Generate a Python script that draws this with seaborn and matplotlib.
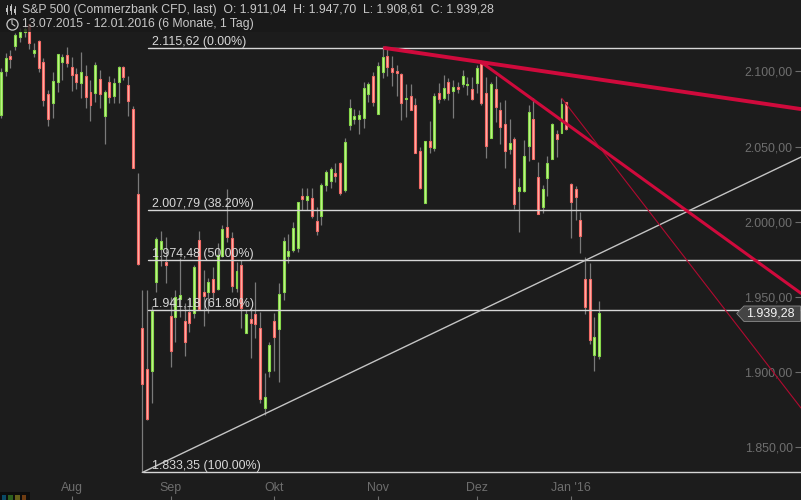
import matplotlib
matplotlib.use("Agg")
import matplotlib.pyplot as plt
from matplotlib.patches import Polygon, Rectangle
import numpy as np
import pandas as pd
import seaborn as sns

highs = [2102.3,2112.3,2114.3,2125.6,2128.9,2132.0,2131.5,2119.1,2120.9,2108.7,2087.7,2099.8,2111.4,2111.4,2116.4,2109.8,
 2102.1,2113.1,2104.3,2094.3,2106.5,2101.0,2087.7,2097.0,2095.4,2103.8,2103.8,2097.0,2077.0,2032.5,1954.7,1954.7,
 1944.0,1990.1,1993.9,1989.9,1950.0,1954.7,1975.9,1946.0,1950.0,1971.3,1993.9,1968.0,1962.6,1970.2,1985.9,1997.9,
 2021.8,1993.4,1973.5,1974.6,1941.4,1942.7,1960.2,1940.2,1899.3,1920.3,1939.4,1959.3,1990.1,1991.7,2000.1,2013.4,
 2022.3,2022.3,2022.3,2009.6,2025.8,2034.4,2036.6,2039.3,2040.0,2055.9,2081.5,2074.8,2074.4,2092.8,2093.2,2099.4,
 2106.1,2116.9,2115.4,2110.3,2104.3,2098.8,2091.6,2091.6,2082.1,2049.9,2053.5,2067.0,2085.9,2092.1,2097.6,2095.6,
 2094.3,2093.2,2101.0,2096.5,2096.5,2104.3,2105.8,2096.5,2093.2,2097.0,2079.9,2081.0,2068.4,2056.2,2028.9,2054.4,
 2077.7,2082.1,2040.0,2024.5,2043.8,2065.5,2061.1,2082.1,2079.9,2025.6,2023.8,2006.3,1976.4,1972.4,1936.9,1947.7]
lows = [2068.9,2097.0,2102.5,2114.3,2119.8,2123.1,2114.9,2109.4,2099.8,2077.0,2063.7,2069.2,2086.3,2094.3,2103.1,2087.2,
 2088.3,2082.3,2075.9,2067.2,2079.9,2075.9,2051.7,2078.8,2078.8,2079.2,2094.3,2070.6,2035.6,1971.5,1833.35,1868.2,
 1879.7,1953.5,1970.6,1959.3,1903.4,1920.3,1936.9,1911.0,1926.7,1936.0,1941.4,1930.9,1939.4,1946.0,1954.7,1976.8,
 1986.8,1953.5,1953.5,1929.4,1926.1,1909.4,1922.7,1879.5,1871.5,1897.0,1901.0,1893.7,1948.0,1972.8,1980.1,1980.1,
 2007.9,2007.9,2002.3,1991.2,1997.9,2020.7,2022.3,2026.7,2017.8,2019.8,2061.1,2065.0,2058.4,2062.6,2079.9,2077.0,
 2071.7,2095.8,2097.2,2090.5,2083.9,2067.7,2069.5,2074.4,2045.6,2021.8,2012.3,2045.6,2047.3,2078.8,2081.0,2081.0,
 2069.2,2085.5,2089.8,2084.3,2081.0,2085.9,2077.7,2042.6,2055.5,2066.6,2051.5,2036.0,2045.1,2008.5,1993.4,2020.0,
 2040.6,2041.8,2005.2,2006.1,2017.4,2041.8,2043.3,2059.1,2061.1,1989.4,2001.2,1979.3,1938.7,1918.8,1900.8,1908.61]
opens = [2071.1,2100.5,2110.3,2116.9,2123.1,2126.4,2131.5,2112.5,2120.2,2106.1,2084.8,2078.8,2092.8,2106.5,2110.9,2102.7,
 2098.3,2092.1,2097.0,2086.1,2085.5,2094.8,2070.6,2092.8,2083.9,2092.8,2102.7,2090.8,2074.8,2018.5,1929.4,1902.1,
 1901.0,1960.2,1981.9,1973.1,1937.4,1936.9,1948.5,1934.0,1940.2,1939.2,1987.9,1953.1,1953.5,1962.0,1955.1,1977.3,
 1996.3,1989.0,1955.8,1971.1,1926.3,1935.2,1938.5,1929.2,1876.0,1901.0,1934.0,1928.5,1953.5,1977.3,1981.3,1982.4,
 2017.0,2014.7,2015.6,2000.7,2003.9,2024.3,2027.3,2032.3,2038.9,2021.2,2064.4,2068.6,2068.6,2069.2,2084.8,2097.0,
 2071.9,2099.6,2110.3,2102.1,2100.3,2098.3,2081.7,2083.7,2077.7,2047.1,2012.7,2053.5,2049.3,2085.5,2082.5,2092.8,
 2087.2,2089.4,2091.8,2090.8,2088.1,2092.1,2104.7,2085.5,2055.9,2088.1,2074.2,2065.0,2048.6,2054.9,2020.7,2020.5,
 2050.6,2068.4,2029.6,2010.0,2029.3,2042.0,2058.4,2059.3,2079.7,2024.9,2021.6,2001.0,1961.8,1961.8,1911.4,1911.04]
closes = [2099.5,2108.7,2108.1,2124.2,2126.0,2128.2,2119.1,2114.3,2102.1,2081.0,2068.2,2093.4,2111.4,2109.4,2105.4,2097.8,
 2093.2,2099.4,2083.2,2077.9,2104.3,2084.8,2086.1,2083.2,2092.1,2102.7,2096.5,2080.1,2036.0,1972.0,1892.1,1868.9,
 1940.9,1988.6,1987.2,1971.5,1914.3,1950.0,1951.1,1920.3,1932.9,1970.2,1941.8,1950.9,1959.8,1953.5,1977.9,1995.0,
 1990.1,1957.5,1967.3,1942.5,1938.5,1932.9,1932.2,1882.0,1883.3,1917.9,1923.6,1951.8,1987.2,1980.6,1995.7,2013.4,
 2015.4,2017.0,2004.1,1994.1,2024.5,2032.9,2034.9,2030.7,2019.4,2052.9,2075.5,2070.2,2070.8,2088.8,2091.6,2079.9,
 2103.6,2109.4,2102.7,2099.8,2099.2,2079.2,2082.3,2074.6,2046.0,2022.5,2053.5,2049.9,2083.7,2081.5,2088.8,2085.9,
 2089.4,2088.5,2096.8,2091.6,2081.5,2102.3,2079.2,2050.6,2091.6,2076.5,2063.2,2047.3,2052.2,2012.0,2023.0,2043.8,
 2072.8,2042.0,2005.4,2021.8,2038.9,2065.0,2055.3,2078.1,2061.7,2013.4,2016.7,1990.8,1943.5,1921.4,1923.2,1939.28]

fib_levels = [2115.62, 2007.79, 1974.48, 1941.18, 1833.35]
fib_labels = ["2.115,62 (0.00%)", "2.007,79 (38.20%)", "1.974,48 (50.00%)",
              "1.941,18 (61.80%)", "1.833,35 (100.00%)"]
price_ticks = [2100, 2050, 2000, 1950, 1900, 1850]
price_labels = ["2.100,00", "2.050,00", "2.000,00", "1.950,00", "1.900,00", "1.850,00"]
month_ticks = [15, 36, 58, 80, 101, 121]
month_labels = ["Aug", "Sep", "Okt", "Nov", "Dez", "Jan '16"]
support_x, support_y = [30, 169.85], [1833.35, 2043.1]
trend1_x, trend1_y = [81.5, 169.85], [2115.62, 2075.0]
trend2_x, trend2_y = [101.9, 169.85], [2106.3, 1952.5]
trend3_x, trend3_y = [119.05, 169.85], [2082.2, 1876.2]
last_close = "1.939,28"
title1 = "S&P 500 (Commerzbank CFD, last)  O: 1.911,04  H: 1.947,70  L: 1.908,61  C: 1.939,28"
title2 = "13.07.2015 - 12.01.2016 (6 Monate, 1 Tag)"

BG = "#1c1c1c"
sns.set_style("dark", rc={"axes.facecolor": BG, "figure.facecolor": BG})
plt.rcParams["font.family"] = ["Liberation Sans", "DejaVu Sans"]

fig = plt.figure(figsize=(8.01, 5.0), dpi=100)
ax = fig.add_axes([0, 0, 1, 1])

df = pd.DataFrame({"o": opens, "h": highs, "l": lows, "c": closes})
df["i"] = np.arange(len(df))
up = df[df.c >= df.o]
down = df[df.c < df.o]

ax.vlines(df.i, df.l, df.h, color="#7a7a7a", lw=0.9, zorder=2)
ax.bar(up.i, up.c - up.o, bottom=up.o, width=0.42, facecolor="#c4f58e",
       edgecolor="#86d84a", lw=0.8, zorder=3)
ax.bar(down.i, down.o - down.c, bottom=down.c, width=0.42, facecolor="#ffb4aa",
       edgecolor="#f26a66", lw=0.8, zorder=3)

for lev in fib_levels:
    ax.axhline(lev, xmin=(142.5 if lev == fib_levels[-1] else 147.5) / 801, xmax=1,
               color="#d6d6d6", lw=1.0, zorder=4)
for lev, lab in zip(fib_levels, fib_labels):
    ax.annotate(lab, xy=(152 / 801, lev), xycoords=("axes fraction", "data"),
                xytext=(0, 0), textcoords="offset points", color="#d8d8d8",
                fontsize=8.9, ha="left", va="bottom", zorder=6)

sns.lineplot(x=support_x, y=support_y, ax=ax, color="#c4c4c4", lw=1.0, zorder=4)
sns.lineplot(x=trend1_x, y=trend1_y, ax=ax, color="#cf0a3c", lw=2.8, zorder=5)
sns.lineplot(x=trend2_x, y=trend2_y, ax=ax, color="#cf0a3c", lw=2.2, zorder=5)
sns.lineplot(x=trend3_x, y=trend3_y, ax=ax, color="#b00a30", lw=0.8, zorder=5)

ax.set_xlim(-0.212, 169.85)
ax.set_ylim(1815.04, 2147.54)
for s in ax.spines.values():
    s.set_visible(False)
ax.grid(False)

ax.set_yticks(price_ticks, price_labels)
ax.yaxis.tick_right()
ax.tick_params(axis="y", direction="in", length=4, width=0.8, color="#6e6e6e",
               labelcolor="#6e6e6e", labelsize=8.9, right=True, left=False)
for t in ax.get_yticklabels():
    t.set_ha("right")
ax.yaxis.set_tick_params(pad=-6)

ax.set_xticks(month_ticks, month_labels)
ax.tick_params(axis="x", direction="in", length=3, width=0.8, color="#6e6e6e",
               labelcolor="#6e6e6e", labelsize=8.9, pad=-4.5, bottom=True)
for t in ax.get_xticklabels():
    t.set_va("bottom")


def px(x, y):
    return x / 801, 1 - y / 500


T = ax.transAxes
ax.add_patch(Rectangle(px(0, 32), 490 / 801, 32 / 500, transform=T, facecolor="#191919",
                       alpha=0.78, edgecolor="none", zorder=7))
ax.text(*px(22, 9.5), title1, transform=T, color="#c8c8c8", fontsize=8.8, va="center", zorder=8)
ax.text(*px(22, 24.5), title2, transform=T, color="#c8c8c8", fontsize=8.8, va="center", zorder=8)

# header icons
for xc, y0, y1, b0, b1 in [(6.5, 5, 14, 8, 12), (10.5, 4, 14, 6, 11), (14.5, 6, 14, 9, 13)]:
    ax.plot(*zip(px(xc, y0), px(xc, y1)), transform=T, color="#c0c0c0", lw=0.7, zorder=8)
    ax.add_patch(Rectangle(px(xc - 1, b1), 2 / 801, (b1 - b0) / 500, transform=T,
                           facecolor="#c0c0c0", edgecolor="none", zorder=8))
ax.plot(*px(12, 24), transform=T, marker="o", ms=8, mfc="none", mec="#c8c8c8", mew=0.9, zorder=8)
ax.plot(*zip(px(12, 20), px(12, 24), px(15, 26)), transform=T, color="#c8c8c8", lw=0.8, zorder=8)

# last price tag
tag = [px(736.7, 313.5), px(744, 306), px(800.5, 306), px(800.5, 321.5), px(744, 321.5)]
ax.add_patch(Polygon(tag, closed=True, transform=T, facecolor="#444444", edgecolor="#8a8a8a",
                     lw=0.6, zorder=8))
ax.text(*px(795, 313.8), last_close, transform=T, color="#f4f4f4", fontsize=9.0, ha="right",
        va="center", zorder=9)

# palette swatches, bottom left
ax.add_patch(Rectangle(px(0, 500), 30 / 801, 8 / 500, transform=T, facecolor="#0d0d0d",
                       edgecolor="none", zorder=8))
for xs, col in zip([1.5, 8, 15, 22], ["#0a4a66", "#2c5f1e", "#66601a", "#6e3c12"]):
    ax.add_patch(Rectangle(px(xs, 500), 4.5 / 801, 5 / 500, transform=T, facecolor=col,
                           edgecolor="none", zorder=9))

fig.savefig("out.png", dpi=100, facecolor=BG)
